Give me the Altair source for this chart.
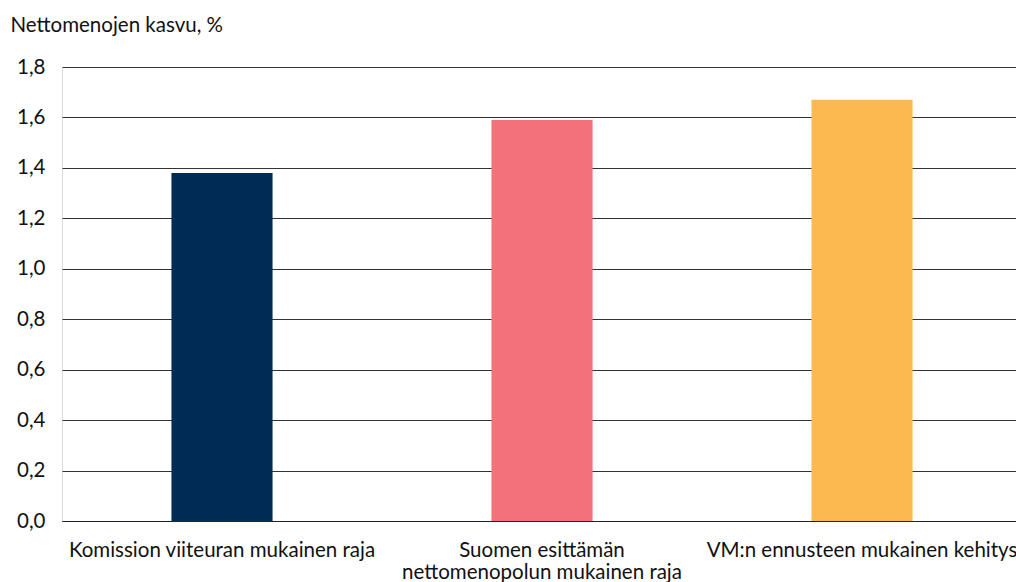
import altair as alt
import pandas as pd

categories = [
    "Komission viiteuran mukainen raja",
    "Suomen esittämän nettomenopolun mukainen raja",
    "VM:n ennusteen mukainen kehitys",
]
values = [1.38, 1.59, 1.67]
colors = ["#002b54", "#f2717a", "#fbb94f"]
y_ticks = [0.0, 0.2, 0.4, 0.6, 0.8, 1.0, 1.2, 1.4, 1.6, 1.8]

df = pd.DataFrame({"cat": categories, "val": values})

FONT = "Lato"
FS = 20.5

chart = alt.Chart(df).mark_bar(width=alt.RelativeBandSize(0.316)).encode(
    x=alt.X(
        "cat:N",
        sort=categories,
        title=None,
        scale=alt.Scale(paddingInner=0, paddingOuter=0, range=[0, 960]),
        axis=alt.Axis(
            labelAngle=0,
            ticks=False,
            domain=True,
            domainColor="#222222",
            labelFont=FONT,
            labelFontSize=FS,
            labelColor="#111111",
            labelPadding=19,
            labelLimit=400,
            labelLineHeight=22.5,
            labelBaseline="top",
            labelExpr="datum.label == 'Suomen esittämän nettomenopolun mukainen raja' ? ['Suomen esittämän', 'nettomenopolun mukainen raja'] : datum.label",
        ),
    ),
    y=alt.Y(
        "val:Q",
        scale=alt.Scale(domain=[0, 1.8], nice=False),
        axis=alt.Axis(
            values=y_ticks,
            title="Nettomenojen kasvu, %",
            titleAngle=0,
            titleAlign="left",
            titleBaseline="middle",
            titleX=-52,
            titleY=-42,
            titleFont=FONT,
            titleFontSize=FS,
            titleFontWeight="normal",
            titleColor="#111111",
            labelFont=FONT,
            labelFontSize=FS,
            labelColor="#111111",
            labelPadding=17,
            labelExpr="replace(format(datum.value, '.1f'), '.', ',')",
            ticks=False,
            domain=False,
            grid=True,
            gridColor="#333333",
            gridWidth=1,
        ),
    ),
    color=alt.Color("cat:N", scale=alt.Scale(domain=categories, range=colors), legend=None),
).properties(
    width=954,
    height=454,
    autosize=alt.AutoSizeParams(type="none"),
    padding={"left": 62, "top": 67, "right": 0, "bottom": 61},
).configure_view(stroke=None).configure(background="white")

chart.save("out.html", embed_options={"renderer": "svg", "actions": False})
